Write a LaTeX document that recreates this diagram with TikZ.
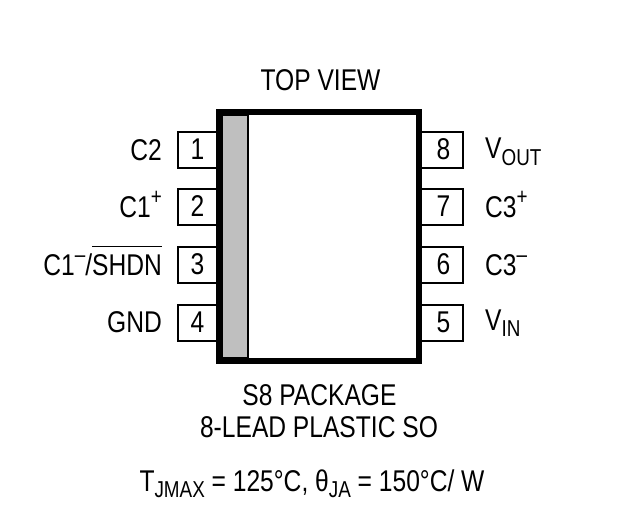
\documentclass[tikz,border=0pt]{standalone}
\usepackage{fontspec}
\setmainfont[FakeStretch=0.82]{Liberation Sans}
\newcommand{\lowtxt}[1]{\raisebox{-6.5pt}{\fontsize{23}{23}\selectfont #1}}
\newcommand{\hightxt}[1]{\raisebox{13pt}{\fontsize{23}{23}\selectfont #1}}
\tikzset{
  pinbox/.style={draw=black,line width=2pt,fill=white,rectangle,minimum width=42pt,minimum height=36pt,inner sep=0pt,font=\fontsize{30}{30}\selectfont},
  pinlabel/.style={inner sep=0pt,font=\fontsize{30}{30}\selectfont},
  caption/.style={inner sep=0pt,font=\fontsize{30}{30}\selectfont,anchor=base},
  pkgbody/.style={draw=black,line width=5.6pt,fill=white},
  pkgband/.style={draw=black,line width=2pt,fill=black!25}
}
\begin{document}
\begin{tikzpicture}[x=1pt,y=-1pt]
\useasboundingbox (0,0) rectangle (625,525);
\fill[white] (0,0) rectangle (625,525);
% pins, left
\node[pinbox] (p1) at (199,149.5) {\hspace*{-3pt}\raisebox{-2.5pt}{1}};
\node[pinbox] (p2) at (199,206.5) {\hspace*{-3pt}\raisebox{-2.5pt}{2}};
\node[pinbox] (p3) at (199,264.5) {\hspace*{-3pt}\raisebox{-2.5pt}{3}};
\node[pinbox] (p4) at (199,322.5) {\hspace*{-3pt}\raisebox{-2.5pt}{4}};
% pins, right
\node[pinbox] (p8) at (442,149.5) {\hspace*{3pt}\raisebox{-2.5pt}{8}};
\node[pinbox] (p7) at (442,206.5) {\hspace*{3pt}\raisebox{-2.5pt}{7}};
\node[pinbox] (p6) at (442,264.5) {\hspace*{3pt}\raisebox{-2.5pt}{6}};
\node[pinbox] (p5) at (442,322.5) {\hspace*{3pt}\raisebox{-2.5pt}{5}};
% package
\draw[pkgbody] (219,112) rectangle (419,361);
\draw[pkgband] (222,114.5) rectangle (248,358);
\draw[line width=5.6pt] (219,112) rectangle (419,361);
% left labels
\node[pinlabel,anchor=base east] (l1) at (162,160) {C2};
\node[pinlabel,anchor=base east] (l2) at (162,217) {C1\hightxt{+}};
\node[pinlabel,anchor=base east] (l3) at (162,275) {C1\hightxt{--}/$\overline{\hbox{\rule{0pt}{27pt}SHDN}}$};
\node[pinlabel,anchor=base east] (l4) at (162,332) {GND};
% right labels
\node[pinlabel,anchor=base west] (l8) at (485,158.5) {V\lowtxt{OUT}};
\node[pinlabel,anchor=base west] (l7) at (485,217) {C3\hightxt{+}};
\node[pinlabel,anchor=base west] (l6) at (485,275) {C3\hightxt{--}};
\node[pinlabel,anchor=base west] (l5) at (485,330) {V\lowtxt{IN}};
% captions
\node[caption] (top) at (320.5,90) {TOP VIEW};
\node[caption] (c1) at (319.5,405) {S8 PACKAGE};
\node[caption] (c2) at (319,437) {8-LEAD PLASTIC SO};
\node[caption] (c3) at (312,491) {T\lowtxt{JMAX} = 125°C, θ\lowtxt{JA} = 150°C/ W};
\end{tikzpicture}
\end{document}
